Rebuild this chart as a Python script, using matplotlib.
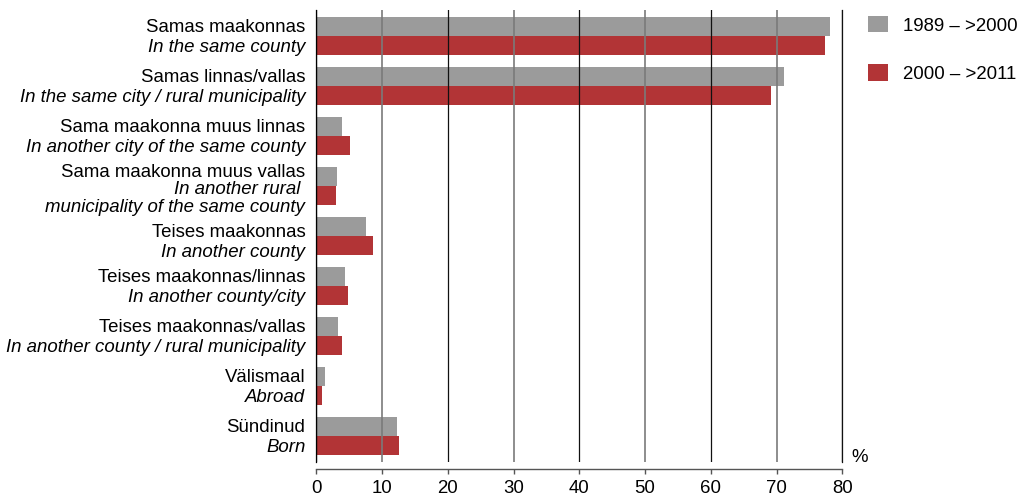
import matplotlib.pyplot as plt
import numpy as np

plt.rcParams['font.family'] = ['Liberation Sans', 'DejaVu Sans']
plt.rcParams['font.size'] = 13.4

labels_et = ["Samas maakonnas", "Samas linnas/vallas", "Sama maakonna muus linnas",
             "Sama maakonna muus vallas", "Teises maakonnas", "Teises maakonnas/linnas",
             "Teises maakonnas/vallas", "Välismaal", "Sündinud"]
labels_en = ["In the same county", "In the same city / rural municipality",
             "In another city of the same county",
             "In another rural \nmunicipality of the same county",
             "In another county", "In another county/city",
             "In another county / rural municipality", "Abroad", "Born"]
share_1989_2000 = [78.1, 71.1, 3.9, 3.1, 7.5, 4.3, 3.3, 1.3, 12.2]
share_2000_2011 = [77.4, 69.1, 5.1, 3.0, 8.6, 4.8, 3.9, 0.8, 12.6]
series_names = ["1989 – >2000", "2000 – >2011"]
x_ticks = list(range(0, 81, 10))

gray = "#9b9b9b"
red = "#b23436"

fig = plt.figure(figsize=(10.18, 4.96), dpi=100)
ax = fig.add_axes([316.3 / 1018, 1 - 461.7 / 496, 526 / 1018, 451.7 / 496])

y = np.arange(len(labels_et))
h = 0.38
b1 = ax.barh(y - h / 2, share_1989_2000, height=h, color=gray, label=series_names[0])
b2 = ax.barh(y + h / 2, share_2000_2011, height=h, color=red, label=series_names[1])

ax.set_xlim(0, 80)
ax.set_ylim(8.514, -0.514)

ax.spines["top"].set_visible(False)
ax.spines["left"].set_color("black")
ax.spines["left"].set_linewidth(0.9)
ax.spines["right"].set_color("#111111")
ax.spines["right"].set_linewidth(0.9)
ax.spines["bottom"].set_position(("outward", 5.4))
ax.spines["bottom"].set_color("#555555")
ax.spines["bottom"].set_linewidth(1.0)

ax.set_xticks(x_ticks)
ax.set_yticks([])
ax.tick_params(axis='x', direction='out', length=3.6, width=1.0, color="#555555", pad=4)
ax.grid(axis='x')
for j, tick in enumerate(ax.xaxis.get_major_ticks()):
    gl = tick.gridline
    if j % 2:
        gl.set_color("#7a7a7a")
        gl.set_linewidth(1.2)
    else:
        gl.set_color("#111111")
        gl.set_linewidth(0.9)

# label baselines in pixels below group centre
offsets = {3: [-9, 8.6, 26.6], 4: [1.5, 21.5]}
for i, (et, en) in enumerate(zip(labels_et, labels_en)):
    lines = [(et, 'normal')] + [(l, 'italic') for l in en.split('\n')]
    offs = offsets.get(i, [-4, 16])
    for (txt, style), off in zip(lines, offs):
        ax.annotate(txt, xy=(0, i), xycoords=('axes fraction', 'data'),
                    xytext=(-11, -off), textcoords='offset pixels',
                    ha='right', va='baseline', style=style)

ax.annotate("%", xy=(1, 0), xycoords='axes fraction', xytext=(9, 0),
            textcoords='offset pixels', ha='left', va='baseline')

fig.legend(handles=[b1, b2], loc='upper left', bbox_to_anchor=(868 / 1018, 1 - 16 / 496),
           frameon=False, borderpad=0, borderaxespad=0, handlelength=1.08,
           handleheight=0.97, handletextpad=0.8, labelspacing=1.6)

fig.savefig("out.png", dpi=100)
